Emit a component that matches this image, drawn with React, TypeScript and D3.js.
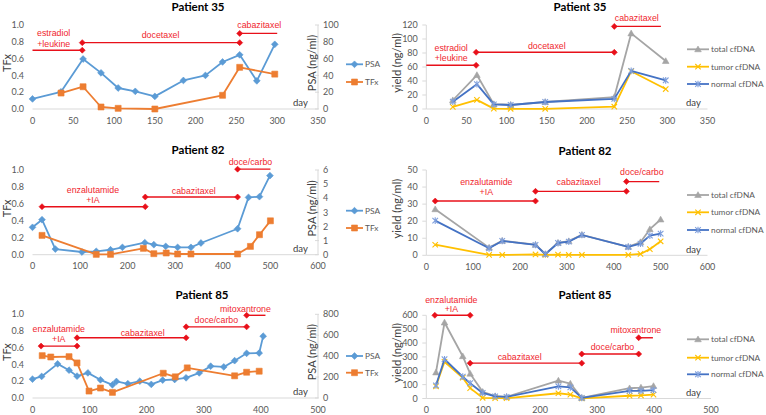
import React from "react";
import * as d3 from "d3";

// ---------------- Patient 35 ----------------
const p35PsaDays = [0, 35, 62, 84, 105, 126, 150, 185, 212, 233, 254, 275, 297];
const p35Psa = [12, 20.5, 59.5, 43, 25, 21, 15, 34, 40, 56, 64.5, 33.5, 77];
const p35TfxDays = [35, 62, 84, 105, 150, 233, 254, 297];
const p35Tfx = [0.19, 0.265, 0.024, 0.008, 0.0, 0.163, 0.496, 0.415];
const p35CfDays = [33, 63, 84, 105, 148, 234, 255, 298];
const p35Total = [12.5, 48.5, 7, 6, 10, 17, 108, 68.5];
const p35Tumor = [3, 13, 0.5, 0.3, 0.3, 3.3, 54, 28.5];
const p35Normal = [10.5, 35.5, 6.5, 5.7, 10, 14.5, 54.5, 41];

// ---------------- Patient 82 ----------------
const p82PsaDays = [0, 20, 48, 104, 134, 164, 189, 236, 255, 280, 305, 333, 354, 431, 454, 477, 499];
const p82Psa = [1.94, 2.48, 0.4, 0.19, 0.24, 0.35, 0.52, 0.85, 0.71, 0.59, 0.52, 0.52, 0.83, 1.84, 4.06, 4.11, 5.6];
const p82TfxDays = [20, 134, 164, 233, 255, 281, 305, 333, 431, 458, 477, 500];
const p82Tfx = [0.228, 0.004, 0.004, 0.075, 0.012, 0.02, 0.008, 0.008, 0.008, 0.098, 0.236, 0.4];
const p82CfDays = [19, 134, 162, 233, 254, 281, 304, 332, 431, 457, 477, 500];
const p82Total = [27, 4.5, 8.5, 6.2, 0.8, 7.3, 8.3, 12, 5.0, 7.7, 15.3, 21];
const p82Tumor = [6.2, 0.2, 0.2, 0.5, 0.3, 0.4, 0.2, 0.2, 0.2, 0.8, 3.6, 8.2];
const p82Normal = [20.3, 4.1, 8.4, 6.1, 0.6, 7.2, 8.0, 11.9, 4.9, 6.8, 11.5, 12.7];

// ---------------- Patient 85 ----------------
const p85PsaDays = [0, 16, 44, 64, 78, 97, 119, 140, 147, 167, 188, 208, 228, 249, 269, 292, 312, 335, 354, 375, 397, 404];
const p85Psa = [180, 206, 326, 266, 209, 240, 174, 126, 158, 136, 161, 130, 171, 177, 193, 240, 304, 297, 357, 427, 430, 591];
const p85TfxDays = [17, 32, 64, 78, 99, 119, 140, 229, 250, 271, 354, 375, 397];
const p85Tfx = [0.506, 0.49, 0.494, 0.419, 0.083, 0.119, 0.067, 0.296, 0.253, 0.36, 0.265, 0.308, 0.32];
const p85CfDays = [17, 32, 64, 77, 99, 121, 141, 232, 253, 273, 357, 377, 399];
const p85Total = [188, 548, 305, 179, 48, 17, 12, 129, 107, 5, 74, 79, 90];
const p85Tumor = [88, 265, 150, 75, 5, 3, 2, 38, 28, 1, 20, 22, 28];
const p85Normal = [95, 283, 157, 110, 40, 15, 12, 87, 80, 4, 55, 55, 60];

// ---------------- Treatments (start/end day, level in the panel's left-axis units) ----------------
const p35TfxTreatments = [
  { lines: ["estradiol", "+leukine"], start: 0, end: 61, level: 0.7, marks: [false, true], labelDay: 26, labelLevels: [0.9, 0.78] },
  { lines: ["docetaxel"], start: 61, end: 254, level: 0.79, marks: [true, true], labelDay: 157, labelLevels: [0.88] },
  { lines: ["cabazitaxel"], start: 254, end: 300, level: 0.9, marks: [true, false], labelDay: 278, labelLevels: [1.0] },
];
const p35CfTreatments = [
  { lines: ["estradiol", "+leukine"], start: 0, end: 62, level: 62.4, marks: [false, true], labelDay: 31, labelLevels: [86.7, 73] },
  { lines: ["docetaxel"], start: 62, end: 234, level: 81, marks: [true, true], labelDay: 150, labelLevels: [90] },
  { lines: ["cabazitaxel"], start: 234, end: 292, level: 118, marks: [true, false], labelDay: 262, labelLevels: [129.5] },
];
const p82TfxTreatments = [
  { lines: ["enzalutamide", "+IA"], start: 20, end: 237, level: 0.567, marks: [true, true], labelDay: 127, labelLevels: [0.768, 0.65] },
  { lines: ["cabazitaxel"], start: 237, end: 431, level: 0.681, marks: [true, true], labelDay: 339, labelLevels: [0.748] },
  { lines: ["doce/carbo"], start: 431, end: 500, level: 1.01, marks: [true, false], labelDay: 458, labelLevels: [1.094] },
];
const p82CfTreatments = [
  { lines: ["enzalutamide", "+IA"], start: 19, end: 233, level: 31.8, marks: [true, true], labelDay: 128, labelLevels: [42.8, 37] },
  { lines: ["cabazitaxel"], start: 233, end: 427, level: 37.5, marks: [true, true], labelDay: 325, labelLevels: [42.8] },
  { lines: ["doce/carbo"], start: 427, end: 497, level: 43.2, marks: [true, false], labelDay: 460, labelLevels: [48.8] },
];
const p85TfxTreatments = [
  { lines: ["enzalutamide", "+IA"], start: 15, end: 78, level: 0.62, marks: [true, true], labelDay: 46, labelLevels: [0.82, 0.7] },
  { lines: ["cabazitaxel"], start: 78, end: 269, level: 0.719, marks: [true, true], labelDay: 193, labelLevels: [0.775] },
  { lines: ["doce/carbo"], start: 269, end: 375, level: 0.85, marks: [true, true], labelDay: 322, labelLevels: [0.929] },
  { lines: ["mitoxantrone"], start: 375, end: 408, level: 0.988, marks: [true, false], labelDay: 373, labelLevels: [1.07] },
];
const p85CfTreatments = [
  { lines: ["enzalutamide", "+IA"], start: 15, end: 77, level: 600, marks: [true, true], labelDay: 44, labelLevels: [710, 643] },
  { lines: ["cabazitaxel"], start: 77, end: 273, level: 255, marks: [true, true], labelDay: 164, labelLevels: [298] },
  { lines: ["doce/carbo"], start: 273, end: 373, level: 321, marks: [true, true], labelDay: 327, labelLevels: [369] },
  { lines: ["mitoxantrone"], start: 373, end: 398, level: 438, marks: [true, false], labelDay: 368, labelLevels: [495] },
];

// ---------------- Styles ----------------
const FONT = "Lato, 'Open Sans', sans-serif";
const RED_FONT = "'Liberation Sans', Arial, sans-serif";
const TXT = "#595959";
const AXIS = "#d9d9d9";
const RED = "#e8101a";
const C_PSA = "#5B9BD5";
const C_TFX = "#ED7D31";
const C_TOTAL = "#A5A5A5";
const C_TUMOR = "#FFC000";
const C_NORMAL = "#4472C4";

function markerPath(type: string, s: number): string {
  switch (type) {
    case "diamond":
      return `M0,${-s}L${s},0L0,${s}L${-s},0Z`;
    case "square":
      return `M${-s},${-s}H${s}V${s}H${-s}Z`;
    case "triangle":
      return `M0,${-s}L${s},${s * 0.75}L${-s},${s * 0.75}Z`;
    case "x":
      return `M${-s},${-s}L${s},${s}M${-s},${s}L${s},${-s}`;
    case "asterisk":
      return `M${-s},${-s}L${s},${s}M${-s},${s}L${s},${-s}M0,${-s * 1.2}L0,${s * 1.2}`;
    default:
      return "";
  }
}

function Marker({ type, color, x, y, size }: any) {
  const stroked = type === "x" || type === "asterisk";
  return (
    <path
      transform={`translate(${x},${y})`}
      d={markerPath(type, size)}
      fill={stroked ? "none" : color}
      stroke={color}
      strokeWidth={stroked ? 1.1 : 0.6}
    />
  );
}

const markerSize: any = { diamond: 3.4, square: 3, triangle: 3.3, x: 2.7, asterisk: 2.8 };

function Panel({ cfg }: any) {
  const x = d3.scaleLinear().domain([0, cfg.xMax]).range([cfg.x0, cfg.x1]);
  const yL = d3.scaleLinear().domain([0, cfg.leftMax]).range([cfg.yBottom, cfg.yTop]);
  const yR = cfg.rightMax != null ? d3.scaleLinear().domain([0, cfg.rightMax]).range([cfg.yBottom, cfg.yTop]) : null;
  const xTicks = d3.range(0, cfg.xMax + cfg.xStep / 2, cfg.xStep);
  const lTicks = d3.range(0, cfg.leftMax + cfg.leftStep / 2, cfg.leftStep);
  const rTicks = yR ? d3.range(0, cfg.rightMax + cfg.rightStep / 2, cfg.rightStep) : [];
  const midY = (cfg.yTop + cfg.yBottom) / 2;

  return (
    <g>
      {/* title */}
      <text x={cfg.titleX} y={cfg.titleY} textAnchor="middle" fontFamily={FONT} fontWeight="bold" fontSize={11.5} fill="#000">
        {cfg.title}
      </text>

      {/* x axis */}
      <line x1={cfg.x0} x2={cfg.x1} y1={cfg.yBottom} y2={cfg.yBottom} stroke={AXIS} strokeWidth={1} />
      {xTicks.map((t: number) => (
        <text key={"xt" + t} x={x(t)} y={cfg.yBottom + 11.5} dy="0.35em" textAnchor="middle" fontFamily={FONT} fontSize={9} fill={TXT}>
          {t}
        </text>
      ))}

      {/* left axis */}
      {cfg.leftAxisLine && (
        <g>
          <line x1={cfg.x0} x2={cfg.x0} y1={cfg.yTop} y2={cfg.yBottom} stroke={AXIS} strokeWidth={1} />
          {lTicks.map((t: number) => (
            <line key={"lk" + t} x1={cfg.x0 - 4} x2={cfg.x0} y1={yL(t)} y2={yL(t)} stroke={AXIS} strokeWidth={1} />
          ))}
        </g>
      )}
      {lTicks.map((t: number) => (
        <text key={"lt" + t} x={cfg.x0 - 8.5} y={yL(t)} dy="0.35em" textAnchor="end" fontFamily={FONT} fontSize={9} fill={TXT}>
          {cfg.leftFormat(t)}
        </text>
      ))}
      <text
        transform={`translate(${cfg.leftTitleX},${midY - 4}) rotate(-90)`}
        textAnchor="middle"
        dy="0.35em"
        fontFamily={FONT}
        fontSize={11}
        fill="#404040"
      >
        {cfg.leftTitle}
      </text>

      {/* right axis */}
      {yR && (
        <g>
          <line x1={cfg.x1} x2={cfg.x1} y1={cfg.yTop} y2={cfg.yBottom} stroke={AXIS} strokeWidth={1} />
          {rTicks.map((t: number) => (
            <g key={"rt" + t}>
              <line x1={cfg.x1 - 3} x2={cfg.x1 + 1} y1={yR(t)} y2={yR(t)} stroke={AXIS} strokeWidth={1} />
              <text x={cfg.x1 + 5} y={yR(t)} dy="0.35em" textAnchor="start" fontFamily={FONT} fontSize={9} fill={TXT}>
                {t}
              </text>
            </g>
          ))}
          <text
            transform={`translate(${cfg.x1 - 6},${midY - 4}) rotate(-90)`}
            textAnchor="middle"
            dy="0.35em"
            fontFamily={FONT}
            fontSize={11}
            fill="#404040"
          >
            {cfg.rightTitle}
          </text>
        </g>
      )}

      {/* day label */}
      <text x={cfg.dayX} y={cfg.yBottom - 6} dy="0.35em" fontFamily={FONT} fontSize={9.5} fill="#404040">
        day
      </text>

      {/* treatments */}
      {cfg.treatments.map((tr: any, i: number) => (
        <g key={"tr" + i}>
          <line x1={x(tr.start)} x2={x(tr.end)} y1={yL(tr.level)} y2={yL(tr.level)} stroke={RED} strokeWidth={1.4} />
          {tr.marks[0] && <Marker type="diamond" color={RED} x={x(tr.start)} y={yL(tr.level)} size={3} />}
          {tr.marks[1] && <Marker type="diamond" color={RED} x={x(tr.end)} y={yL(tr.level)} size={3} />}
          {tr.lines.map((ln: string, j: number) => (
            <text
              key={j}
              x={x(tr.labelDay)}
              y={yL(tr.labelLevels[j])}
              dy="0.35em"
              textAnchor="middle"
              fontFamily={RED_FONT}
              fontSize={8.8}
              fill="#f0262e"
            >
              {ln}
            </text>
          ))}
        </g>
      ))}

      {/* series */}
      {cfg.series.map((s: any, i: number) => {
        const ys = s.axis === "right" && yR ? yR : yL;
        const pts = s.days.map((d: number, k: number) => [x(d), ys(s.values[k])] as [number, number]);
        const path = d3.line()(pts) || "";
        return (
          <g key={"s" + i}>
            <path d={path} fill="none" stroke={s.color} strokeWidth={1.8} strokeLinejoin="round" />
            {pts.map((p: [number, number], k: number) => (
              <Marker key={k} type={s.marker} color={s.markerColor || s.color} x={p[0]} y={p[1]} size={markerSize[s.marker]} />
            ))}
          </g>
        );
      })}

      {/* legend */}
      {cfg.series.map((s: any, i: number) => {
        const ly = cfg.legendYs[i];
        return (
          <g key={"lg" + i}>
            <line x1={cfg.legendX} x2={cfg.legendX + cfg.legendLen} y1={ly} y2={ly} stroke={s.color} strokeWidth={1.8} />
            <Marker type={s.marker} color={s.markerColor || s.color} x={cfg.legendX + cfg.legendLen / 2} y={ly} size={markerSize[s.marker]} />
            <text x={cfg.legendX + cfg.legendLen + 2} y={ly} dy="0.35em" fontFamily={FONT} fontSize={8.3} fill={TXT}>
              {s.name}
            </text>
          </g>
        );
      })}
    </g>
  );
}

const fmt1 = d3.format(".1f");
const fmt0 = (v: number) => String(v);

function tfxSeries(psaDays: number[], psa: number[], tfxDays: number[], tfx: number[]) {
  return [
    { name: "PSA", days: psaDays, values: psa, axis: "right", color: C_PSA, marker: "diamond" },
    { name: "TFx", days: tfxDays, values: tfx, axis: "left", color: C_TFX, marker: "square" },
  ];
}
function cfSeries(days: number[], total: number[], tumor: number[], normal: number[]) {
  return [
    { name: "total cfDNA", days, values: total, axis: "left", color: C_TOTAL, marker: "triangle" },
    { name: "tumor cfDNA", days, values: tumor, axis: "left", color: C_TUMOR, marker: "x" },
    { name: "normal cfDNA", days, values: normal, axis: "left", color: C_NORMAL, marker: "asterisk", markerColor: "#7f9fdc" },
  ];
}

const leftBase = { x0: 32.5, x1: 318, leftMax: 1, leftStep: 0.2, leftFormat: fmt1, leftTitle: "TFx", leftTitleX: 7.5, rightTitle: "PSA (ng/ml)", dayX: 293, legendX: 346, legendLen: 17, leftAxisLine: false };
const rightBase = { x0: 426.3, x1: 707.5, leftFormat: fmt0, leftTitle: "yield (ng/ml)", leftTitleX: 397, dayX: 686, legendX: 687, legendLen: 22, leftAxisLine: true };

const panels = [
  { ...leftBase, title: "Patient 35", titleX: 198, titleY: 10.5, yTop: 25, yBottom: 109, xMax: 350, xStep: 50, rightMax: 100, rightStep: 20,
    series: tfxSeries(p35PsaDays, p35Psa, p35TfxDays, p35Tfx), treatments: p35TfxTreatments, legendYs: [64.3, 82] },
  { ...rightBase, title: "Patient 35", titleX: 580, titleY: 10.5, yTop: 25, yBottom: 109, xMax: 350, xStep: 50, leftMax: 120, leftStep: 20,
    series: cfSeries(p35CfDays, p35Total, p35Tumor, p35Normal), treatments: p35CfTreatments, legendYs: [49.3, 66.7, 84] },
  { ...leftBase, title: "Patient 82", titleX: 198, titleY: 154.3, yTop: 170, yBottom: 254.7, xMax: 600, xStep: 100, rightMax: 6, rightStep: 1,
    series: tfxSeries(p82PsaDays, p82Psa, p82TfxDays, p82Tfx), treatments: p82TfxTreatments, legendYs: [210.7, 228] },
  { ...rightBase, title: "Patient 82", titleX: 585, titleY: 154.7, yTop: 170, yBottom: 255.3, xMax: 600, xStep: 100, leftMax: 50, leftStep: 10,
    series: cfSeries(p82CfDays, p82Total, p82Tumor, p82Normal), treatments: p82CfTreatments, legendYs: [195, 212.3, 230] },
  { ...leftBase, title: "Patient 85", titleX: 202, titleY: 298.7, yTop: 314.3, yBottom: 398, xMax: 500, xStep: 100, rightMax: 800, rightStep: 200,
    series: tfxSeries(p85PsaDays, p85Psa, p85TfxDays, p85Tfx), treatments: p85TfxTreatments, legendYs: [356, 372.7] },
  { ...rightBase, title: "Patient 85", titleX: 585, titleY: 299.3, yTop: 315.3, yBottom: 398.5, xMax: 500, xStep: 100, leftMax: 600, leftStep: 100, x1: 711,
    series: cfSeries(p85CfDays, p85Total, p85Tumor, p85Normal), treatments: p85CfTreatments, legendYs: [339.3, 357.7, 374.3] },
];

export default function App() {
  return (
    <svg width={766} height={415} style={{ position: "absolute", left: 0, top: 0, background: "#fff" }}>
      <rect x={0} y={0} width={766} height={415} fill="#fff" />
      {panels.map((p, i) => (
        <Panel key={i} cfg={p} />
      ))}
    </svg>
  );
}
